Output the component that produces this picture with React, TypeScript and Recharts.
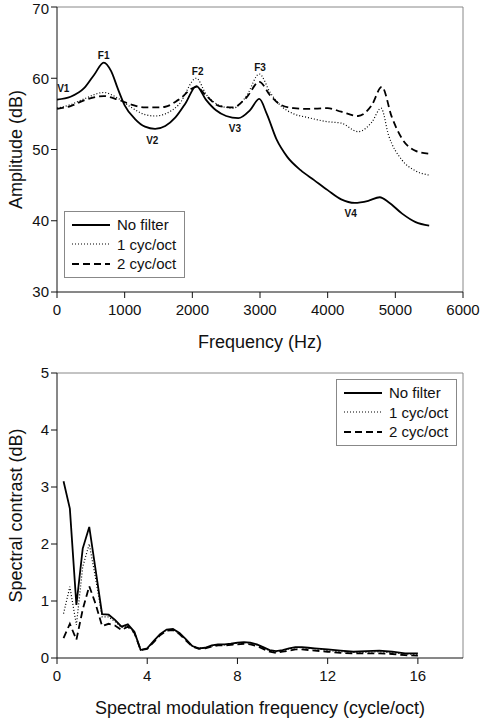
import { Line, LineChart, ReferenceDot, ReferenceLine, XAxis, YAxis } from 'recharts';

const FONT = '"Liberation Sans", Arial, sans-serif';

// top panel: amplitude spectra (Hz, dB)
const noFilterFreq = [0, 200, 400, 550, 690, 800, 900, 1000, 1150, 1300, 1450, 1600, 1750, 1900, 2060, 2200, 2350, 2500, 2680, 2850, 2990, 3100, 3250, 3400, 3600, 3800, 4000, 4200, 4400, 4600, 4770, 4900, 5100, 5300, 5500];
const noFilterAmp = [57.0, 57.4, 58.6, 60.5, 62.2, 61.0, 58.5, 56.2, 54.3, 53.2, 52.9, 53.3, 54.5, 56.5, 58.9, 57.0, 55.5, 54.7, 54.4, 55.5, 57.1, 55.0, 51.3, 49.0, 47.1, 45.7, 44.3, 43.0, 42.5, 42.8, 43.3, 42.6, 41.0, 39.8, 39.3];

const filt1Freq = [0, 200, 400, 690, 900, 1100, 1300, 1450, 1600, 1800, 2060, 2200, 2400, 2600, 2800, 2990, 3150, 3300, 3500, 3700, 4000, 4200, 4450, 4650, 4790, 4900, 5100, 5300, 5500];
const filt1Amp = [55.8, 56.3, 57.1, 58.0, 57.2, 55.9, 54.9, 54.7, 55.0, 56.3, 60.0, 57.8, 56.2, 55.8, 57.5, 60.6, 58.0, 56.2, 55.0, 54.5, 53.9, 53.7, 52.5, 53.8, 55.8, 52.0, 48.5, 47.0, 46.4];

const filt2Freq = [0, 200, 400, 690, 900, 1100, 1300, 1450, 1600, 1800, 2060, 2200, 2400, 2600, 2800, 2990, 3150, 3300, 3500, 3700, 4000, 4200, 4450, 4650, 4800, 4950, 5100, 5300, 5500];
const filt2Amp = [55.7, 56.1, 56.9, 57.5, 57.0, 56.3, 55.9, 55.9, 56.0, 57.0, 58.8, 57.6, 56.1, 55.9, 57.3, 59.5, 57.6, 56.3, 55.8, 55.7, 55.8, 55.3, 54.7, 56.2, 58.8, 54.5, 51.5, 49.8, 49.4];

const peakLabels = [
  { name: 'V1', f: 93, amp: 58.6 },
  { name: 'F1', f: 690, amp: 63.2 },
  { name: 'V2', f: 1408, amp: 51.3 },
  { name: 'F2', f: 2079, amp: 60.9 },
  { name: 'V3', f: 2630, amp: 53.0 },
  { name: 'F3', f: 3000, amp: 61.5 },
  { name: 'V4', f: 4340, amp: 41.0 },
];

const freqTicks = [0, 1000, 2000, 3000, 4000, 5000, 6000];
const ampTicks = [30, 40, 50, 60, 70];

// bottom panel: spectral contrast (cycle/oct, dB)
const modFreq = [0.29, 0.57, 0.86, 1.14, 1.43, 1.71, 2.0, 2.29, 2.57, 2.86, 3.14, 3.43, 3.71, 4.0, 4.29, 4.57, 4.86, 5.14, 5.43, 5.71, 6.0, 6.29, 6.57, 6.86, 7.14, 7.43, 7.71, 8.0, 8.29, 8.57, 8.86, 9.14, 9.43, 9.71, 10.0, 10.29, 10.57, 10.86, 11.14, 11.43, 11.71, 12.0, 12.57, 13.14, 13.71, 14.29, 14.86, 15.43, 16.0];
const contrastNoFilter = [3.1, 2.62, 0.93, 1.92, 2.3, 1.55, 0.77, 0.76, 0.67, 0.55, 0.59, 0.46, 0.14, 0.17, 0.3, 0.42, 0.5, 0.51, 0.44, 0.33, 0.21, 0.17, 0.18, 0.22, 0.24, 0.24, 0.25, 0.27, 0.28, 0.27, 0.24, 0.19, 0.14, 0.12, 0.14, 0.17, 0.19, 0.19, 0.18, 0.17, 0.16, 0.15, 0.13, 0.11, 0.12, 0.13, 0.11, 0.08, 0.08];
const contrast1 = [0.78, 1.25, 0.58, 1.6, 2.0, 1.4, 0.72, 0.72, 0.64, 0.54, 0.57, 0.45, 0.14, 0.17, 0.29, 0.41, 0.49, 0.5, 0.43, 0.32, 0.21, 0.17, 0.18, 0.21, 0.23, 0.23, 0.24, 0.26, 0.27, 0.26, 0.23, 0.18, 0.13, 0.11, 0.13, 0.16, 0.18, 0.18, 0.17, 0.16, 0.15, 0.13, 0.11, 0.1, 0.1, 0.11, 0.09, 0.07, 0.06];
const contrast2 = [0.35, 0.6, 0.32, 0.85, 1.26, 0.95, 0.56, 0.6, 0.57, 0.49, 0.55, 0.44, 0.14, 0.16, 0.28, 0.4, 0.48, 0.49, 0.42, 0.31, 0.2, 0.16, 0.17, 0.2, 0.22, 0.22, 0.23, 0.24, 0.25, 0.24, 0.21, 0.16, 0.11, 0.09, 0.11, 0.13, 0.15, 0.15, 0.14, 0.13, 0.12, 0.11, 0.09, 0.08, 0.08, 0.08, 0.07, 0.05, 0.04];

const modTicks = [0, 4, 8, 12, 16];
const contrastTicks = [0, 1, 2, 3, 4, 5];

const series = [
  { key: 'none', name: 'No filter', width: 1.8, dash: undefined },
  { key: 'one', name: '1 cyc/oct', width: 1.2, dash: '1 2' },
  { key: 'two', name: '2 cyc/oct', width: 1.8, dash: '7 4' },
];

const pts = (xs: number[], ys: number[]) => xs.map((x, i) => ({ x, y: ys[i] }));

const tickStyle = { fontSize: 15, fill: '#111', fontFamily: FONT };
const axisTitle = { fontSize: 18, fill: '#111', fontFamily: FONT };

function LegendBox({ left, top }: { left: number; top: number }) {
  return (
    <div
      style={{
        position: 'absolute',
        left,
        top,
        border: '1px solid #888',
        background: '#fff',
        padding: '3px 8px 3px 7px',
        fontFamily: FONT,
        fontSize: 15,
        color: '#111',
        lineHeight: '19.5px',
      }}
    >
      {series.map(s => (
        <div key={s.key} style={{ display: 'flex', alignItems: 'center' }}>
          <svg width={38} height={10} style={{ marginRight: 7 }}>
            <line x1={0} y1={5} x2={38} y2={5} stroke="#000" strokeWidth={s.width} strokeDasharray={s.dash} />
          </svg>
          <span>{s.name}</span>
        </div>
      ))}
    </div>
  );
}

export default function App() {
  return (
    <div style={{ position: 'absolute', left: 0, top: 0, width: 480, height: 718, background: '#fff' }}>
      <div style={{ position: 'absolute', left: 0, top: 0 }}>
        <LineChart width={480} height={360} margin={{ top: 7, right: 17, bottom: 8, left: 0 }}>
          <XAxis
            dataKey="x"
            type="number"
            domain={[0, 6000]}
            ticks={freqTicks}
            tick={tickStyle}
            tickMargin={6}
            stroke="#111"
            height={60}
            allowDuplicatedCategory={false}
            label={{ value: 'Frequency (Hz)', position: 'insideBottom', offset: 4, style: axisTitle }}
          />
          <YAxis
            type="number"
            domain={[30, 70]}
            ticks={ampTicks}
            tick={tickStyle}
            stroke="#111"
            width={57}
            label={{ value: 'Amplitude (dB)', angle: -90, position: 'center', dx: -13, style: axisTitle }}
          />
          <ReferenceLine y={70} stroke="#888" />
          <ReferenceLine x={6000} stroke="#888" />
          <Line data={pts(noFilterFreq, noFilterAmp)} dataKey="y" name="No filter" type="monotone" stroke="#000" strokeWidth={1.8} dot={false} isAnimationActive={false} />
          <Line data={pts(filt1Freq, filt1Amp)} dataKey="y" name="1 cyc/oct" type="monotone" stroke="#000" strokeWidth={1.2} strokeDasharray="1 2" dot={false} isAnimationActive={false} />
          <Line data={pts(filt2Freq, filt2Amp)} dataKey="y" name="2 cyc/oct" type="monotone" stroke="#000" strokeWidth={1.8} strokeDasharray="7 4" dot={false} isAnimationActive={false} />
          {peakLabels.map(p => (
            <ReferenceDot
              key={p.name}
              x={p.f}
              y={p.amp}
              r={0}
              label={{ value: p.name, position: 'center', fill: '#111', fontSize: 10, fontWeight: 'bold', fontFamily: FONT }}
            />
          ))}
        </LineChart>
        <LegendBox left={64} top={211} />
      </div>

      <div style={{ position: 'absolute', left: 0, top: 360 }}>
        <LineChart width={480} height={358} margin={{ top: 13, right: 17, bottom: 0, left: 0 }}>
          <XAxis
            dataKey="x"
            type="number"
            domain={[0, 18]}
            ticks={modTicks}
            tick={tickStyle}
            tickMargin={6}
            stroke="#111"
            height={60}
            allowDuplicatedCategory={false}
            label={{ value: 'Spectral modulation frequency (cycle/oct)', position: 'insideBottom', offset: 4, style: axisTitle }}
          />
          <YAxis
            type="number"
            domain={[0, 5]}
            ticks={contrastTicks}
            tick={tickStyle}
            stroke="#111"
            width={57}
            label={{ value: 'Spectral contrast (dB)', angle: -90, position: 'center', dx: -13, style: axisTitle }}
          />
          <ReferenceLine y={5} stroke="#888" />
          <ReferenceLine x={18} stroke="#888" />
          <Line data={pts(modFreq, contrastNoFilter)} dataKey="y" name="No filter" type="linear" stroke="#000" strokeWidth={1.8} dot={false} isAnimationActive={false} />
          <Line data={pts(modFreq, contrast1)} dataKey="y" name="1 cyc/oct" type="linear" stroke="#000" strokeWidth={1.2} strokeDasharray="1 2" dot={false} isAnimationActive={false} />
          <Line data={pts(modFreq, contrast2)} dataKey="y" name="2 cyc/oct" type="linear" stroke="#000" strokeWidth={1.8} strokeDasharray="7 4" dot={false} isAnimationActive={false} />
        </LineChart>
        <LegendBox left={336} top={19} />
      </div>
    </div>
  );
}
